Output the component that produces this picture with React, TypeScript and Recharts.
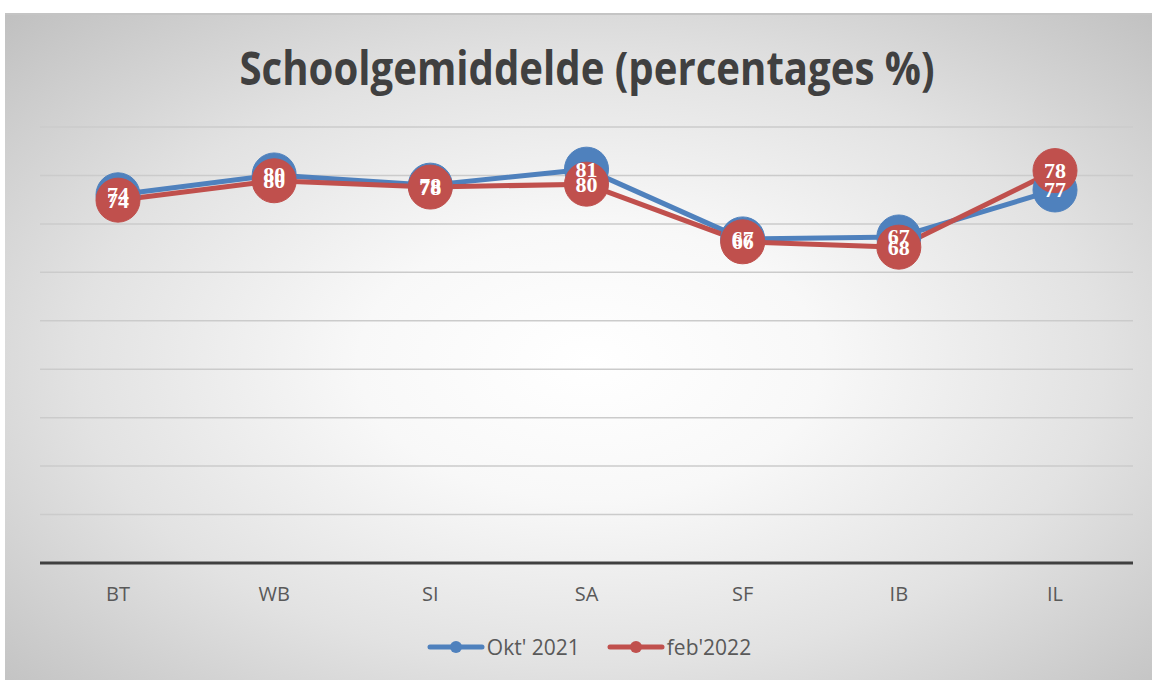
import React from 'react';
import { LineChart, Line, XAxis, YAxis, CartesianGrid, Legend, LabelList } from 'recharts';

const categories = ['BT', 'WB', 'SI', 'SA', 'SF', 'IB', 'IL'];
const okt2021 = [76.0, 80.1, 78.0, 81.3, 66.9, 67.3, 77.0];
const feb2022 = [74.9, 78.9, 77.6, 78.2, 66.3, 65.2, 81.0];
const okt2021Labels = ['74', '80', '78', '81', '67', '67', '77'];
const feb2022Labels = ['74', '80', '78', '80', '66', '68', '78'];
const yTicks = [0, 10, 20, 30, 40, 50, 60, 70, 80, 90];
const seriesNames = ["Okt' 2021", "feb'2022"];
const title = 'Schoolgemiddelde (percentages %)';

const BLUE = '#4F81BD';
const RED = '#C0504D';

const data = categories.map((c, i) => ({
  cat: c,
  okt: okt2021[i],
  feb: feb2022[i],
  oktLabel: okt2021Labels[i],
  febLabel: feb2022Labels[i],
}));

const renderLabel = (props: any) => {
  const { x, y, value } = props;
  return (
    <text
      x={x}
      y={y}
      textAnchor="middle"
      dominantBaseline="central"
      fill="#ffffff"
      fontWeight="bold"
      fontFamily="'Liberation Serif', serif"
      fontSize={22}
    >
      {value}
    </text>
  );
};

const renderLegend = (props: any) => {
  const payload = (props.payload || []).filter((p: any) => p.type !== 'none');
  return (
    <div style={{ display: 'flex', justifyContent: 'center', alignItems: 'center', gap: 27, paddingLeft: 26 }}>
      {payload.map((p: any) => (
        <div key={p.value} style={{ display: 'flex', alignItems: 'center' }}>
          <svg width={58} height={20} style={{ display: 'block' }}>
            <line x1={3} y1={10} x2={55} y2={10} stroke={p.color} strokeWidth={5} strokeLinecap="round" />
            <circle cx={29} cy={10} r={6} fill={p.color} />
          </svg>
          <span
            style={{
              marginLeft: 2,
              fontFamily: "'Open Sans', sans-serif",
              fontSize: 21,
              color: '#595959',
              lineHeight: '28px',
            }}
          >
            {p.value}
          </span>
        </div>
      ))}
    </div>
  );
};

export default function App() {
  return (
    <div style={{ position: 'absolute', left: 0, top: 0, width: 1152, height: 680, background: '#ffffff', overflow: 'hidden' }}>
      <div
        style={{
          position: 'absolute',
          left: 5,
          top: 13,
          width: 1147,
          height: 667,
          borderTop: '2px solid #c4c4c4',
          background: 'radial-gradient(ellipse farthest-corner at 51% 52%, #ffffff 0%, #f8f8f8 28%, #e2e2e2 62%, #c0c0c0 100%)',
        }}
      />
      <svg width={1152} height={120} style={{ position: 'absolute', left: 0, top: 0 }}>
        <text
          x={587}
          y={85}
          textAnchor="middle"
          fontFamily="'Open Sans', sans-serif"
          fontWeight="bold"
          fontSize={47}
          fill="#404040"
          textLength={695}
          lengthAdjust="spacingAndGlyphs"
        >
          {title}
        </text>
      </svg>
      <div style={{ position: 'absolute', left: 0, top: 0 }}>
        <LineChart width={1152} height={680} data={data} margin={{ top: 127, right: 19, left: 40, bottom: 87 }}>
          <CartesianGrid horizontal vertical={false} stroke="#cbcbcb" strokeWidth={1.5} />
          <YAxis hide domain={[0, 90]} ticks={yTicks} />
          <XAxis
            dataKey="cat"
            height={30}
            padding={{ left: 78, right: 78 }}
            axisLine={{ stroke: '#404040', strokeWidth: 3 }}
            tickLine={false}
            tickMargin={18}
            tick={{ fill: '#595959', fontSize: 20, fontFamily: "'Open Sans', sans-serif" }}
            interval={0}
          />
          <Line
            type="linear"
            dataKey="okt"
            name={seriesNames[0]}
            stroke={BLUE}
            strokeWidth={5}
            strokeLinejoin="round"
            dot={{ r: 22, fill: BLUE, stroke: BLUE, strokeWidth: 1 }}
            activeDot={false}
            isAnimationActive={false}
          />
          <Line
            type="linear"
            dataKey="feb"
            name={seriesNames[1]}
            stroke={RED}
            strokeWidth={5}
            strokeLinejoin="round"
            dot={{ r: 22, fill: RED, stroke: RED, strokeWidth: 1 }}
            activeDot={false}
            isAnimationActive={false}
          />
          <Line
            type="linear"
            dataKey="okt"
            stroke="none"
            dot={false}
            activeDot={false}
            legendType="none"
            isAnimationActive={false}
          >
            <LabelList dataKey="oktLabel" content={renderLabel} />
          </Line>
          <Line
            type="linear"
            dataKey="feb"
            stroke="none"
            dot={false}
            activeDot={false}
            legendType="none"
            isAnimationActive={false}
          >
            <LabelList dataKey="febLabel" content={renderLabel} />
          </Line>
          <Legend
            layout="horizontal"
            verticalAlign="middle"
            align="center"
            content={renderLegend}
            wrapperStyle={{ position: 'absolute', top: 633, left: 0, width: 1152, height: 28 }}
          />
        </LineChart>
      </div>
    </div>
  );
}
